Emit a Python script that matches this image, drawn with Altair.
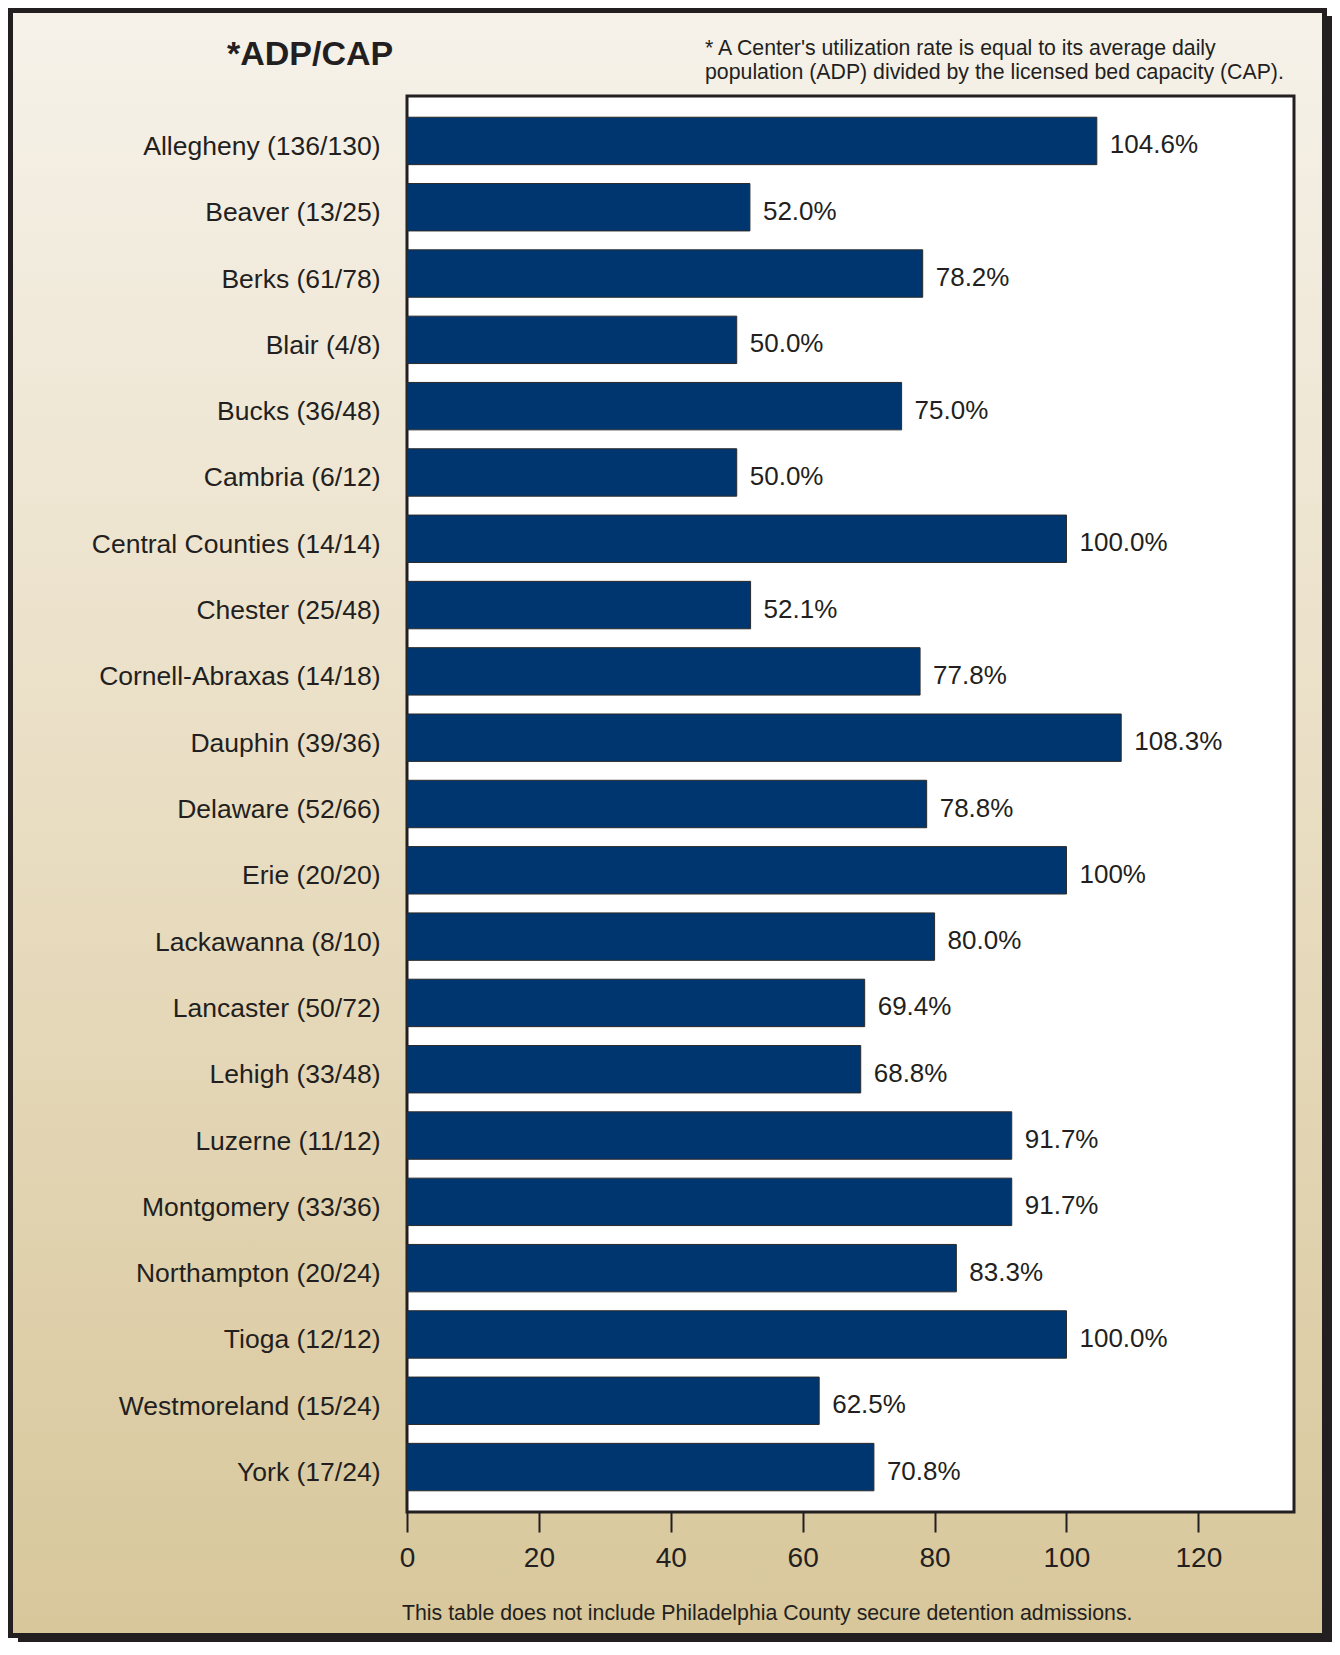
import altair as alt
import pandas as pd

counties = ["Allegheny", "Beaver", "Berks", "Blair", "Bucks", "Cambria",
            "Central Counties", "Chester", "Cornell-Abraxas", "Dauphin",
            "Delaware", "Erie", "Lackawanna", "Lancaster", "Lehigh", "Luzerne",
            "Montgomery", "Northampton", "Tioga", "Westmoreland", "York"]
adp = [136, 13, 61, 4, 36, 6, 14, 25, 14, 39, 52, 20, 8, 50, 33, 11, 33, 20, 12, 15, 17]
cap = [130, 25, 78, 8, 48, 12, 14, 48, 18, 36, 66, 20, 10, 72, 48, 12, 36, 24, 12, 24, 24]
rates = [104.6, 52.0, 78.2, 50.0, 75.0, 50.0, 100.0, 52.1, 77.8, 108.3, 78.8,
         100.0, 80.0, 69.4, 68.8, 91.7, 91.7, 83.3, 100.0, 62.5, 70.8]
rate_labels = ["104.6%", "52.0%", "78.2%", "50.0%", "75.0%", "50.0%", "100.0%",
               "52.1%", "77.8%", "108.3%", "78.8%", "100%", "80.0%", "69.4%",
               "68.8%", "91.7%", "91.7%", "83.3%", "100.0%", "62.5%", "70.8%"]
x_ticks = [0, 20, 40, 60, 80, 100, 120]

title_text = "*ADP/CAP"
note_lines = ["* A Center's utilization rate is equal to its average daily",
              "population (ADP) divided by the licensed bed capacity (CAP)."]
footer_text = "This table does not include Philadelphia County secure detention admissions."

labels = [f"{c} ({a}/{p})" for c, a, p in zip(counties, adp, cap)]
df = pd.DataFrame({"label": labels, "rate": rates, "rate_label": rate_labels})

FONT = "Liberation Sans, Arial, Helvetica, sans-serif"
INK = "#231F20"
W, H = 887, 1416
PAD_L, PAD_T = 399, 88
TOTAL_W, TOTAL_H = 1324, 1634
one = pd.DataFrame({"k": [0]})

right_edge = TOTAL_W - PAD_L        # canvas right edge, plot coords
bottom_edge = TOTAL_H - PAD_T       # canvas bottom edge, plot coords

gradient = {
    "gradient": "linear", "x1": 0, "y1": 0, "x2": 0, "y2": 1,
    "stops": [
        {"offset": 0, "color": "#F6F2EA"},
        {"offset": 0.5, "color": "#E9DDC2"},
        {"offset": 1, "color": "#D8C79B"},
    ],
}

shadow = alt.Chart(one).mark_rect(color="#231F20").encode(
    x=alt.value(-389), x2=alt.value(right_edge), y=alt.value(-80), y2=alt.value(bottom_edge))
frame = alt.Chart(one).mark_rect(fill=gradient, stroke="#231F20", strokeWidth=5).encode(
    x=alt.value(-PAD_L + 2.5), x2=alt.value(right_edge - 7.5),
    y=alt.value(-PAD_T + 2.5), y2=alt.value(bottom_edge - 6.5))
plotbox = alt.Chart(one).mark_rect(fill="white", stroke=INK, strokeWidth=3).encode(
    x=alt.value(0), x2=alt.value(W), y=alt.value(0), y2=alt.value(H))

title = alt.Chart(one).mark_text(text=title_text, font=FONT, fontSize=34, fontWeight="bold",
                                 align="left", baseline="middle", color=INK).encode(
    x=alt.value(-180), y=alt.value(-41))
note1 = alt.Chart(one).mark_text(text=note_lines[0], font=FONT, fontSize=21.3,
                                 align="left", baseline="middle", color=INK).encode(
    x=alt.value(298), y=alt.value(-47))
note2 = alt.Chart(one).mark_text(text=note_lines[1], font=FONT, fontSize=21.3,
                                 align="left", baseline="middle", color=INK).encode(
    x=alt.value(298), y=alt.value(-23))
footer = alt.Chart(one).mark_text(text=footer_text, font=FONT, fontSize=21.3,
                                  align="left", baseline="middle", color=INK).encode(
    x=alt.value(-5), y=alt.value(1518))

y_enc = alt.Y("label:N", sort=labels, title=None,
              scale=alt.Scale(paddingInner=0.285, paddingOuter=0.32),
              axis=alt.Axis(ticks=False, tickSize=0, domain=False, grid=False,
                            labelFontSize=26.5, labelFont=FONT, labelColor=INK,
                            labelPadding=27, labelLimit=0, labelOffset=6, zindex=1))
x_enc = alt.X("rate:Q", title=None,
              scale=alt.Scale(domain=[0, 134.5], nice=False, zero=True),
              axis=alt.Axis(values=x_ticks, tickSize=20, tickWidth=2, tickColor=INK,
                            domain=False, grid=False, labelFontSize=28, labelFont=FONT,
                            labelColor=INK, labelPadding=12.5, labelFlush=False, zindex=1))

bars = alt.Chart(df).mark_bar(color="#003670", stroke="#2A2A2A", strokeWidth=1).encode(
    x=x_enc, y=y_enc)
values = alt.Chart(df).mark_text(align="left", baseline="middle", dx=13, dy=4.5, fontSize=26,
                                 font=FONT, color=INK).encode(
    x="rate:Q", y=alt.Y("label:N", sort=labels), text="rate_label:N")

chart = alt.layer(shadow, frame, plotbox, bars, values, title, note1, note2, footer).properties(
    width=W, height=H,
    autosize=alt.AutoSizeParams(type="none"),
    padding={"left": PAD_L, "top": PAD_T, "right": TOTAL_W - PAD_L - W,
             "bottom": TOTAL_H - PAD_T - H},
    background="white",
).configure_view(stroke="transparent", fill="transparent")

chart.save("out.html", embed_options={"renderer": "svg", "actions": False})
